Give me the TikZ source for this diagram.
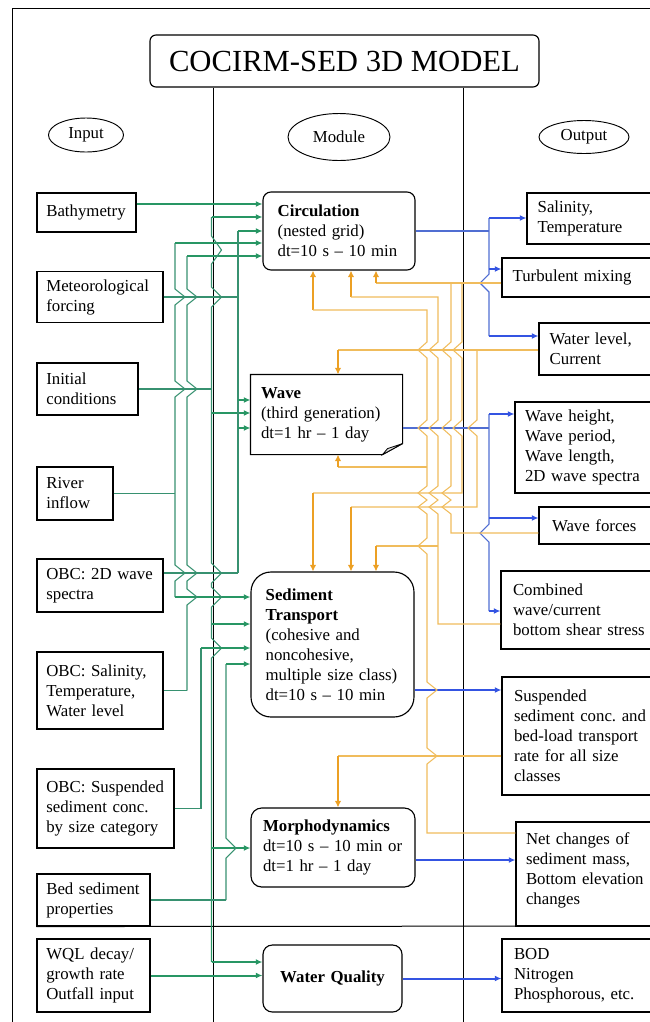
\documentclass[tikz,border=0pt]{standalone}
\usepackage{fontspec}
\setmainfont{Liberation Serif}
\usetikzlibrary{arrows.meta,shapes.geometric,calc}
\definecolor{gthin}{RGB}{55,145,112}
\definecolor{gthick}{RGB}{40,150,100}
\definecolor{othin}{RGB}{240,188,92}
\definecolor{othick}{RGB}{236,160,36}
\definecolor{bthin}{RGB}{80,110,210}
\definecolor{bthick}{RGB}{52,84,226}
\newcommand{\hopR}[3]{-- (#1,#2-#3) -- (#1+10,#2) -- (#1,#2+#3)}
\newcommand{\hopL}[3]{-- (#1,#2-#3) -- (#1-9,#2) -- (#1,#2+#3)}
\newcommand{\hopLL}[1]{-- (#1,486) -- (#1-9,493) -- (#1,500) -- (#1-9,507) -- (#1,514)}
\begin{document}
\begin{tikzpicture}[x=0.75pt,y=-0.75pt,
  txt/.style={font=\fontsize{12.6}{15}\selectfont},
  ibox/.style={draw,line width=0.85pt,rectangle,align=left,inner ysep=0pt,txt},
  mbox/.style={draw,line width=0.85pt,rectangle,align=left,inner ysep=0pt,txt},
  oval/.style={draw,ellipse,line width=0.7pt,inner sep=0pt,txt},
  gl/.style={gthin,line width=0.8pt},
  ga/.style={gthick,line width=1.5pt,-{Latex[length=5pt,width=4.5pt]}},
  ol/.style={othin,line width=0.8pt},
  oa/.style={othick,line width=1.5pt,-{Latex[length=5pt,width=5pt]}},
  bl/.style={bthin,line width=0.8pt},
  ba/.style={bthick,line width=1.5pt,-{Latex[length=5pt,width=4.5pt]}},
  frm/.style={black,line width=0.75pt}]
\useasboundingbox (0,0) rectangle (650,1022);
\begin{scope}
\clip (0,0) rectangle (650,1022);
% ---------- nodes ----------
\node[draw,rounded corners=4.5pt,line width=0.85pt,minimum width=291.75pt,minimum height=39pt,inner sep=0pt,font=\fontsize{23}{27}\selectfont] (title) at (344.5,61) {COCIRM-SED 3D MODEL};
\node[oval,minimum width=56.25pt,minimum height=25.5pt] (inp) at (86,135) {Input};
\node[oval,minimum width=76.5pt,minimum height=35.25pt] (mod) at (339,137) {Module};
\node[oval,minimum width=67.5pt,minimum height=24.75pt] (outp) at (584,137) {Output};
% inputs
\node[ibox,inner xsep=7pt,text width=60.25pt,minimum height=29.25pt] (bathy) at (86.5,212.5) {Bathymetry};
\node[ibox,inner xsep=7pt,text width=80.5pt,minimum height=38.25pt] (met) at (100,297) {Meteorological\\forcing};
\node[ibox,inner xsep=7pt,text width=61.75pt,minimum height=39pt] (init) at (87.5,389) {Initial\\conditions};
\node[ibox,inner xsep=7pt,text width=43pt,minimum height=39.75pt] (river) at (75,493.5) {River\\inflow};
\node[ibox,inner xsep=7pt,text width=80.5pt,minimum height=39.75pt] (obcw) at (100,585.5) {OBC:~2D~wave\\spectra};
\node[ibox,inner xsep=7pt,text width=80.5pt,minimum height=57.75pt] (obcs) at (100,690.5) {\mbox{OBC: Salinity,}\\Temperature,\\Water~level};
\node[ibox,inner xsep=7pt,text width=88.75pt,minimum height=59.25pt] (obcss) at (105.5,808.5) {OBC:~Suspended\\sediment~conc.\\by~size~category};
\node[ibox,inner xsep=7pt,text width=70.75pt,minimum height=39pt] (bed) at (93.5,900) {Bed~sediment\\properties};
\node[ibox,inner xsep=7pt,text width=70.75pt,minimum height=54.75pt] (wql) at (93.5,975.5) {\mbox{WQL decay/}\\growth~rate\\Outfall~input};
% modules
\node[mbox,rounded corners=6pt,inner xsep=11pt,text width=92pt,minimum height=58.5pt] (circ) at (339,231) {\textbf{Circulation}\\(nested~grid)\\\mbox{dt=10 s – 10 min}};
\node[mbox,draw=none,inner xsep=7.5pt,text width=98.25pt,minimum height=59.25pt] (wave) at (326.5,414.5) {\textbf{Wave}\\(third~generation)\\\mbox{dt=1 hr – 1 day}};
\node[mbox,rounded corners=15pt,inner xsep=11pt,text width=100.25pt,minimum height=108.75pt] (sed) at (332.5,644.5) {\textbf{Sediment}\\\textbf{Transport}\\(cohesive~and\\noncohesive,\\\mbox{multiple size class)}\\\mbox{dt=10 s – 10 min}};
\node[mbox,rounded corners=8pt,inner xsep=9pt,text width=105pt,minimum height=59.25pt] (morph) at (333,847.5) {\textbf{Morphodynamics}\\\mbox{dt=10 s – 10 min or}\\\mbox{dt=1 hr – 1 day}};
\node[mbox,rounded corners=7pt,align=center,inner xsep=0pt,text width=104.25pt,minimum height=50.25pt] (wq) at (332.5,978.5) {\textbf{Water~Quality}};
% outputs
\node[ibox,inner xsep=8pt,text width=87.5pt,minimum height=38.25pt] (sal) at (596,218.5) {Salinity,\\Temperature};
\node[ibox,inner xsep=8pt,text width=106.25pt,minimum height=29.25pt] (turb) at (583.5,277.5) {Turbulent~mixing};
\node[ibox,inner xsep=8pt,text width=78.5pt,minimum height=39pt] (wl) at (602,349) {Water~level,\\Current};
\node[ibox,inner xsep=7.5pt,text width=97.5pt,minimum height=68.25pt] (wh) at (590,447.5) {Wave~height,\\Wave~period,\\Wave~length,\\2D~wave~spectra};
\node[ibox,inner xsep=9.75pt,text width=75pt,minimum height=27.75pt] (wf) at (602,525.5) {Wave~forces};
\node[ibox,inner xsep=9pt,text width=105pt,minimum height=58.5pt] (comb) at (583,610) {Combined\\\mbox{wave/current}\\bottom~shear~stress};
\node[ibox,inner xsep=9pt,text width=104.25pt,minimum height=88.5pt] (susp) at (583.5,736) {Suspended\\sediment~conc.~and\\\mbox{bed-load transport}\\rate~for~all~size\\classes};
\node[ibox,inner xsep=7.5pt,text width=96.75pt,minimum height=78pt] (net) at (590.5,874) {Net~changes~of\\sediment~mass,\\Bottom~elevation\\changes\\[-7pt]\mbox{}};
\node[ibox,inner xsep=9pt,text width=104.25pt,minimum height=54.75pt] (bod) at (583.5,975.5) {BOD\\Nitrogen\\Phosphorous,~etc.};
% wave box with folded corner
\draw[line width=0.85pt] (wave.north west) -- (wave.north east) -- ($(wave.south east)+(0,-11)$) -- ($(wave.south east)+(-20,0)$) -- (wave.south west) -- cycle;
\draw[line width=0.6pt,fill=black!12] ($(wave.south east)+(0,-11)$) -- ($(wave.south east)+(-15,-6)$) -- ($(wave.south east)+(-20,0)$) -- cycle;
% ---------- frame and columns ----------
\coordinate (ftl) at (12,8);
\draw[frm] (12,1030) -- (ftl) -- (665,8);
\draw[frm] (title.south -| 213,0) -- (213,1030);
\draw[frm] (title.south -| 463,0) -- (463,1030);
\draw[frm] (bed.south west) -- (665,926);
% ---------- green ----------
\coordinate (g175t) at (175,243); \coordinate (g175r) at (175,493.5); \coordinate (g175b) at (175,597);
\draw[gl] (g175t) \hopR{175}{297}{8} \hopR{175}{389}{8} -- (g175r) \hopR{175}{573}{8} -- (g175b);
\draw[gl] (river.east) -- (g175r);
\draw[ga] (g175t) -- (circ.west |- g175t);
\draw[ga] (g175b) -- (sed.west |- g175b);
\coordinate (g187t) at (187,256); \coordinate (g187b) at (187,690.5);
\draw[gl] (g187t) \hopR{187}{297}{8} \hopR{187}{389}{8} \hopR{187}{573}{8} \hopR{187}{597}{8} -- (g187b);
\draw[gl] (obcs.east) -- (g187b);
\draw[ga] (g187t) -- (circ.west |- g187t);
\coordinate (g213t) at (211.5,217); \coordinate (g213i) at (211.5,389); \coordinate (g213w) at (211.5,413);
\coordinate (g213s) at (211.5,624); \coordinate (g213m) at (211.5,848); \coordinate (g213b) at (211.5,962);
\draw[gl] (g213t) \hopR{211.5}{250}{14} \hopR{211.5}{297}{10} -- (g213i) -- (g213w) \hopR{211.5}{573}{10} \hopR{211.5}{597}{10} -- (g213s) \hopR{211.5}{648}{10} -- (g213m) -- (g213b);
\draw[gthick,line width=1.3pt] (211.5,832) -- (g213b);
\draw[gl] (init.east) -- (g213i);
\draw[ga] (g213t) -- (circ.west |- g213t);
\draw[ga] (g213w) -- (wave.west |- g213w);
\draw[ga] (g213s) -- (sed.west |- g213s);
\draw[ga] (g213m) -- (morph.west |- g213m);
\draw[ga] (g213b) -- (wq.west |- g213b);
\coordinate (g238t) at (238,231); \coordinate (g238a) at (238,400); \coordinate (g238c) at (238,428); \coordinate (g238b) at (238,573);
\draw[gl] (g238t) -- (g238b);
\draw[gl] (met.east) -- (met.east -| g238t);
\draw[gl] (obcw.east |- g238b) -- (g238b);
\draw[ga] (g238t) -- (circ.west |- g238t);
\draw[ga] (g238a) -- (wave.west |- g238a);
\draw[ga] (g238c) -- (wave.west |- g238c);
\coordinate (g201t) at (201,648); \coordinate (g201b) at (201,808.5);
\draw[gl] (g201t) -- (g201b);
\draw[gl] (obcss.east) -- (g201b);
\draw[ga] (g201t) -- (sed.west |- g201t);
\coordinate (g226t) at (226,664); \coordinate (g226b) at (226,900);
\draw[gl] (g226t) \hopR{226}{848}{10} -- (g226b);
\draw[gl] (bed.east) -- (g226b);
\draw[ga] (g226t) -- (sed.west |- g226t);
\draw[ga] (bathy.east |- 0,204) -- (circ.west |- 0,204);
\draw[ga] (wql.east) -- (wq.west |- wql.east);
% ---------- blue ----------
\coordinate (b1t) at (489,218); \coordinate (b1c) at (489,231); \coordinate (b1m) at (489,269); \coordinate (b1b) at (489,336);
\draw[bl] (circ.east) -- (b1c);
\draw[bl] (b1t) -- (b1m) \hopL{489}{283}{9} -- (b1b);
\draw[ba] (b1t) -- (sal.west |- b1t);
\draw[ba] (b1m) -- (turb.west |- b1m);
\draw[ba] (b1b) -- (wl.west |- b1b);
\coordinate (b2t) at (489,414); \coordinate (b2c) at (489,428); \coordinate (b2m) at (489,518); \coordinate (b2b) at (489,611);
\draw[bl] (wave.east |- b2c) -- (b2c);
\draw[bl] (b2t) -- (b2m) \hopL{489}{533}{9} -- (b2b);
\draw[ba] (b2t) -- (wh.west |- b2t);
\draw[ba] (b2m) -- (wf.west |- b2m);
\draw[ba] (b2b) -- (comb.west |- b2b);
\draw[ba] (sed.east |- 0,690) -- (susp.west |- 0,690);
\draw[ba] (morph.east |- 0,860) -- (net.west |- 0,860);
\draw[ba] (wq.east) -- (bod.west |- wq.east);
% ---------- orange ----------
\coordinate (o376) at (376,283);
\draw[ol] (turb.west |- o376) -- (o376);
\draw[oa] (o376) -- (circ.south -| o376);
\draw[ol] (451,283) \hopL{451}{350}{8} \hopL{451}{428}{8} \hopLL{451} -- (451,533) -- (wf.west |- 0,533);
\draw[ol] (462,283) \hopL{462}{350}{8} \hopL{462}{428}{8} -- (462,493) -- (313,493);
\draw[oa] (313,493) -- (sed.north -| 313,0);
\coordinate (o338) at (338,350);
\draw[ol] (wl.west |- o338) -- (o338);
\draw[oa] (o338) -- (wave.north -| o338);
\draw[ol] (477,350) \hopL{477}{428}{8} -- (477,507) -- (351,507);
\draw[oa] (351,507) -- (sed.north -| 351,0);
\draw[oa] (351,297) -- (circ.south -| 351,0);
\draw[ol] (351,297) -- (438,297) \hopL{438}{350}{8} \hopL{438}{428}{8} \hopLL{438} -- (438,624) -- (comb.west |- 0,624);
\draw[ol] (438,546) -- (376,546);
\draw[oa] (376,546) -- (sed.north -| 376,0);
\draw[oa] (313,310) -- (circ.south -| 313,0);
\draw[ol] (313,310) -- (427,310) \hopL{427}{350}{8} \hopL{427}{428}{8} -- (427,467) \hopLL{427} \hopL{427}{546}{8} \hopR{427}{690}{8} \hopR{427}{756}{8} -- (427,833) -- (net.west |- 0,833);
\draw[ol] (427,467) -- (338,467);
\draw[oa] (338,467) -- (wave.south -| 338,0);
\draw[ol] (susp.west |- 0,756) -- (338,756);
\draw[oa] (338,756) -- (morph.north -| 338,0);
\end{scope}
\end{tikzpicture}
\end{document}
